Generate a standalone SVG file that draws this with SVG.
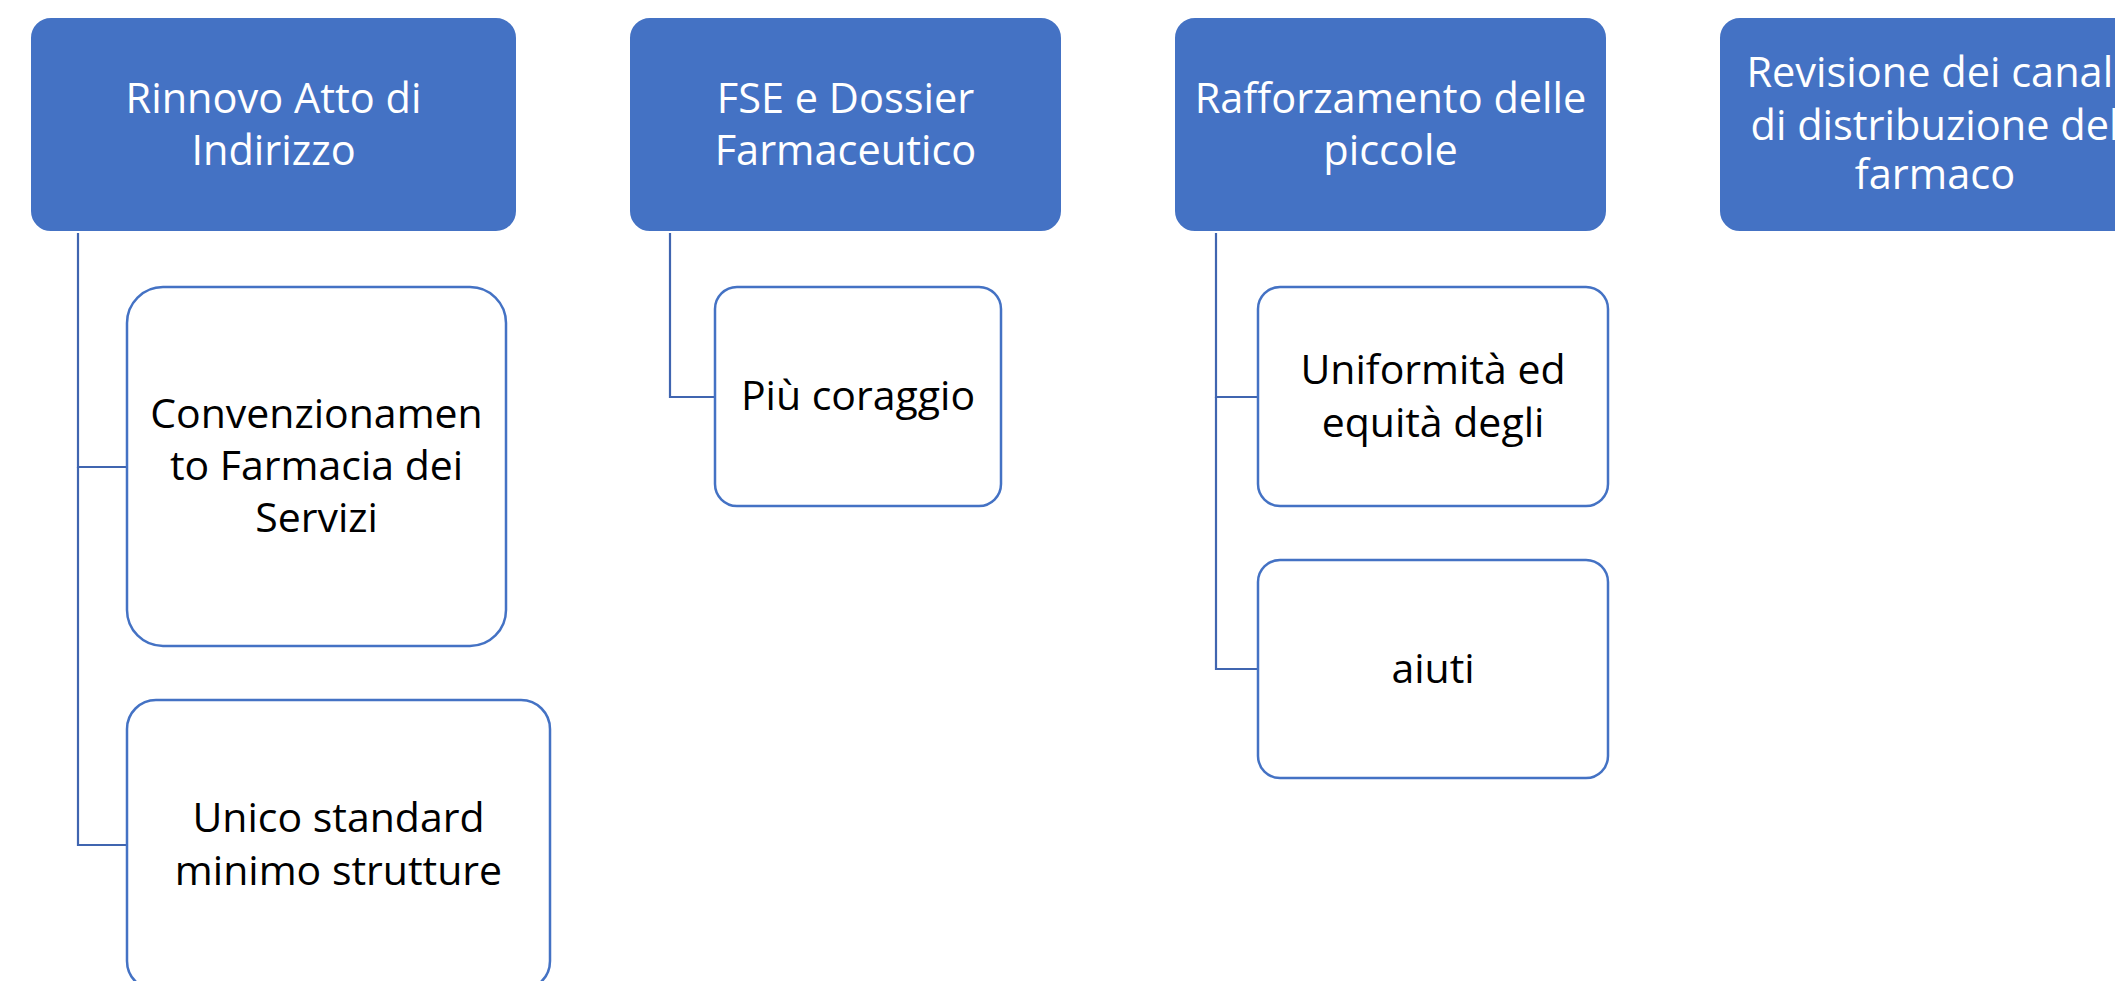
<svg xmlns="http://www.w3.org/2000/svg" width="2115" height="981" viewBox="0 0 2115 981">
<style>
.hdr{fill:#4472C4;stroke:#FFFFFF;stroke-width:2}
.chd{fill:#FFFFFF;stroke:#4472C4;stroke-width:2.5}
.ht{font-family:'Open Sans','Liberation Sans',sans-serif;font-size:41.5px;fill:#FFFFFF;text-anchor:middle}
.ct{font-family:'Open Sans','Liberation Sans',sans-serif;font-size:41px;fill:#000000;text-anchor:middle}
.con{fill:none;stroke:#4065B0;stroke-width:2.2}
</style>
<rect width="2115" height="981" fill="#FFFFFF"/>
<g id="connectors">
<polyline class="con" points="78,232 78,467 127,467"/>
<polyline class="con" points="78,467 78,845 127,845"/>
<polyline class="con" points="670,232 670,397 715,397"/>
<polyline class="con" points="1216,232 1216,397 1258,397"/>
<polyline class="con" points="1216,397 1216,669 1258,669"/>
</g>
<g id="n1">
<rect class="hdr" x="30" y="17" width="487" height="215" rx="21"/>
<text class="ht" x="273.5" y="113">Rinnovo Atto di</text>
<text class="ht" x="273.5" y="165">Indirizzo</text>
</g>
<g id="n1a">
<rect class="chd" x="127" y="287" width="379" height="359" rx="36"/>
<text class="ct" x="316.5" y="428">Convenzionamen</text>
<text class="ct" x="316.5" y="480">to Farmacia dei</text>
<text class="ct" x="316.5" y="532">Servizi</text>
</g>
<g id="n1b">
<rect class="chd" x="127" y="700" width="423" height="290" rx="29"/>
<text class="ct" x="338.5" y="832">Unico standard</text>
<text class="ct" x="338.5" y="885">minimo strutture</text>
</g>
<g id="n2">
<rect class="hdr" x="629" y="17" width="433" height="215" rx="21"/>
<text class="ht" x="845.5" y="113">FSE e Dossier</text>
<text class="ht" x="845.5" y="165">Farmaceutico</text>
</g>
<g id="n2a">
<rect class="chd" x="715" y="287" width="286" height="219" rx="22"/>
<text class="ct" x="858" y="410">Più coraggio</text>
</g>
<g id="n3">
<rect class="hdr" x="1174" y="17" width="433" height="215" rx="21"/>
<text class="ht" x="1390.5" y="113">Rafforzamento delle</text>
<text class="ht" x="1390.5" y="165">piccole</text>
</g>
<g id="n3a">
<rect class="chd" x="1258" y="287" width="350" height="219" rx="22"/>
<text class="ct" x="1433" y="384">Uniformità ed</text>
<text class="ct" x="1433" y="437">equità degli</text>
</g>
<g id="n3b">
<rect class="chd" x="1258" y="560" width="350" height="218" rx="22"/>
<text class="ct" x="1433" y="683">aiuti</text>
</g>
<g id="n4">
<rect class="hdr" x="1719" y="17" width="433" height="215" rx="21"/>
<text class="ht" x="1935" y="87">Revisione dei canali</text>
<text class="ht" x="1935" y="140">di distribuzione del</text>
<text class="ht" x="1935" y="189">farmaco</text>
</g>
</svg>
